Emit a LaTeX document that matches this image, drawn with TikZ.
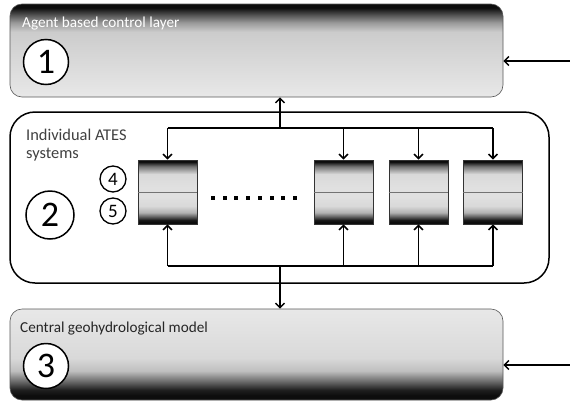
\documentclass[tikz,border=0pt]{standalone}
\usepackage{fontspec}
\setmainfont{Carlito}
\usetikzlibrary{arrows.meta}
\definecolor{g91}{gray}{0.91}
\definecolor{g88}{gray}{0.88}
\definecolor{g85}{gray}{0.85}
\definecolor{g80}{gray}{0.80}
\definecolor{g75}{gray}{0.75}
\definecolor{g70}{gray}{0.70}
\definecolor{g60}{gray}{0.60}
\definecolor{g45}{gray}{0.45}
\definecolor{g40}{gray}{0.40}
\definecolor{g30}{gray}{0.30}
\definecolor{g12}{gray}{0.12}
\definecolor{g10}{gray}{0.10}
\definecolor{g05}{gray}{0.05}
\pgfdeclareverticalshading{topshade}{100bp}{color(0bp)=(g91);color(25bp)=(g91);color(60bp)=(g80);color(65bp)=(g60);color(69.5bp)=(g30);color(73bp)=(g05);color(100bp)=(g05)}
\pgfdeclareverticalshading{botshade}{100bp}{color(0bp)=(g05);color(27.5bp)=(g05);color(30.5bp)=(g12);color(35bp)=(g40);color(41bp)=(g75);color(48bp)=(g85);color(75bp)=(g91);color(100bp)=(g91)}
\pgfdeclareverticalshading{boxshade}{100bp}{color(0bp)=(g05);color(26.6bp)=(g05);color(28.1bp)=(g10);color(31bp)=(g40);color(34bp)=(g70);color(39bp)=(g85);color(46.9bp)=(g88);color(53.1bp)=(g88);color(64bp)=(g85);color(70bp)=(g45);color(73.6bp)=(g05);color(100bp)=(g05)}
\tikzset{
  layer/.style={draw=black!65, line width=0.6pt, rounded corners=12pt, minimum width=493pt, inner sep=0pt},
  num/.style={circle, draw=black, line width=1.5pt, fill=white, inner sep=0pt, minimum size=45pt, font=\fontsize{36}{36}\selectfont},
  smallnum/.style={circle, draw=black, line width=1.3pt, fill=white, inner sep=0pt, minimum size=26pt, font=\fontsize{19}{19}\selectfont},
  atesbox/.style={draw=black!80, line width=0.8pt, shading=boxshade, minimum width=59pt, minimum height=64pt, inner sep=0pt},
  title/.style={anchor=base west, font=\fontsize{15.2}{18}\selectfont, inner sep=0pt},
  conn/.style={line width=1.5pt},
  arr/.style={line width=1.5pt, -{Straight Barb[length=4.5pt,width=9pt,line width=1.5pt]}},
}
\begin{document}
\begin{tikzpicture}[x=1pt,y=-1pt]
\path[use as bounding box, fill=white] (0,0) rectangle (570,402);
% top layer
\node[layer, shading=topshade, minimum height=93pt] (top) at (256.5,50.5) {};
\node[title, text=white] (toptitle) at (22,27.5) {Agent based control layer};
\node[num] (n1) at (46,62) {1};
% bottom layer
\node[layer, shading=botshade, minimum height=91pt] (bot) at (256.5,354.5) {};
\node[title, text=black!85] (bottitle) at (20,332) {Central geohydrological model};
\node[num] (n3) at (46,366) {3};
% middle
\node[draw=black, line width=1.5pt, fill=white, rounded corners=25pt, minimum width=539pt, minimum height=171pt, inner sep=0pt] (mid) at (279.5,197.5) {};
\node[title, text=black!75, align=left, font=\fontsize{16.4}{18}\selectfont] (midtitle) at (26,158) {Individual ATES\\systems};
\node[num, minimum size=48pt] (n2) at (50,215) {2};
\node[smallnum] (n4) at (113,179) {4};
\node[smallnum] (n5) at (113,211) {5};
% ATES boxes
\node[atesbox] (b1) at (167.5,192) {};
\node[atesbox] (b2) at (343.5,192) {};
\node[atesbox] (b3) at (418.5,192) {};
\node[atesbox] (b4) at (493,192) {};
\foreach \b in {b1,b2,b3,b4}{
  \draw[black!55, line width=0.8pt] (\b.west) -- (\b.east);
}
% dots
\foreach \i in {0,...,7}{
  \fill ({213+\i*11.7-2},196) rectangle +(4,4);
}
% buses
\coordinate (tbus) at (280,128);
\coordinate (bbus) at (280,266);
\draw[conn] (b1.north |- tbus) -- (b4.north |- tbus);
\draw[conn] (b1.south |- bbus) -- (b4.south |- bbus);
\foreach \b in {b1,b2,b3,b4}{
  \draw[arr] (\b.north |- tbus) -- (\b.north);
  \draw[arr] (\b.south |- bbus) -- (\b.south);
}
\draw[arr] (tbus) -- (tbus |- top.south);
\draw[arr] (bbus) -- (bbus |- bot.north);
% external arrows
\coordinate (ein1) at (570,61);
\coordinate (ein3) at (570,365);
\draw[arr] (ein1) -- (ein1 -| top.east);
\draw[arr] (ein3) -- (ein3 -| bot.east);
\end{tikzpicture}
\end{document}
